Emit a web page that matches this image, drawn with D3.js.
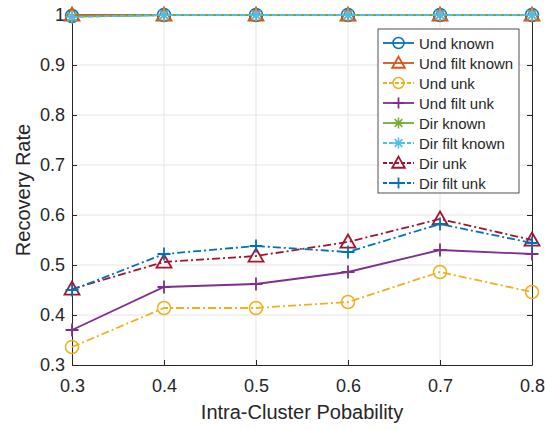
<!DOCTYPE html>
<html>
<head>
<meta charset="utf-8">
<script src="https://cdn.jsdelivr.net/npm/d3@7"></script>
<style>
  body { margin: 0; background: #fff; }
  text { font-family: "Liberation Sans", Arial, sans-serif; fill: #262626; }
</style>
</head>
<body>
<svg id="chart" width="545" height="430"></svg>
<script>
// data
var xValues = [0.3, 0.4, 0.5, 0.6, 0.7, 0.8];
var yTicks = [0.3, 0.4, 0.5, 0.6, 0.7, 0.8, 0.9, 1];

var undKnown = [0.998, 1, 1, 1, 1, 1];
var undFiltKnown = [1, 1, 1, 1, 1, 1];
var undUnk = [0.336, 0.414, 0.414, 0.426, 0.486, 0.446];
var undFiltUnk = [0.37, 0.456, 0.462, 0.486, 0.53, 0.522];
var dirKnown = [0.997, 1, 1, 1, 1, 1];
var dirFiltKnown = [0.996, 1, 1, 1, 1, 1];
var dirUnk = [0.452, 0.506, 0.518, 0.546, 0.592, 0.55];
var dirFiltUnk = [0.45, 0.522, 0.538, 0.526, 0.582, 0.544];

var seriesNames = ["Und known", "Und filt known", "Und unk", "Und filt unk",
                   "Dir known", "Dir filt known", "Dir unk", "Dir filt unk"];

// styles for each series
var styles = [
  { values: undKnown, color: "#0072BD", dash: null, marker: "circle" },
  { values: undFiltKnown, color: "#D95319", dash: null, marker: "triangle" },
  { values: undUnk, color: "#EDB120", dash: "8,3,2,3", marker: "circle" },
  { values: undFiltUnk, color: "#7E2F8E", dash: null, marker: "plus" },
  { values: dirKnown, color: "#77AC30", dash: null, marker: "star" },
  { values: dirFiltKnown, color: "#4DBEEE", dash: "5,3", marker: "star" },
  { values: dirUnk, color: "#A2142F", dash: "8,3,2,3", marker: "triangle" },
  { values: dirFiltUnk, color: "#0072BD", dash: "8,3,2,3", marker: "plus" }
];

var margin = { left: 72, right: 13, top: 15, bottom: 65 };
var width = 545, height = 430;

var svg = d3.select("#chart");

var x = d3.scaleLinear().domain([0.3, 0.8]).range([margin.left, width - margin.right]);
var y = d3.scaleLinear().domain([0.3, 1]).range([height - margin.bottom, margin.top]);

// grid
svg.append("g").selectAll("line.gx")
  .data(xValues.slice(1, -1)).enter().append("line")
  .attr("x1", d => x(d)).attr("x2", d => x(d))
  .attr("y1", y(0.3)).attr("y2", y(1))
  .attr("stroke", "#e3e3e3").attr("stroke-width", 1);
svg.append("g").selectAll("line.gy")
  .data(yTicks.slice(1, -1)).enter().append("line")
  .attr("x1", x(0.3)).attr("x2", x(0.8))
  .attr("y1", d => y(d)).attr("y2", d => y(d))
  .attr("stroke", "#e3e3e3").attr("stroke-width", 1);

// axes
var xAxis = d3.axisBottom(x).tickValues(xValues).tickSizeInner(-5).tickSizeOuter(0).tickPadding(14)
  .tickFormat(d3.format(".1f"));
var yAxis = d3.axisLeft(y).tickValues(yTicks).tickSizeInner(-5).tickSizeOuter(0).tickPadding(7)
  .tickFormat(d => d === 1 ? "1" : d3.format(".1f")(d));

var gx = svg.append("g").attr("transform", "translate(0," + y(0.3) + ")").call(xAxis);
var gy = svg.append("g").attr("transform", "translate(" + x(0.3) + ",0)").call(yAxis);
var gxTop = svg.append("g").attr("transform", "translate(0," + y(1) + ")")
  .call(d3.axisTop(x).tickValues(xValues).tickSizeInner(-5).tickSizeOuter(0).tickFormat(""));
var gyRight = svg.append("g").attr("transform", "translate(" + x(0.8) + ",0)")
  .call(d3.axisRight(y).tickValues(yTicks).tickSizeInner(-5).tickSizeOuter(0).tickFormat(""));

[gx, gy, gxTop, gyRight].forEach(function(g) {
  g.select(".domain").attr("stroke", "#262626").attr("stroke-width", 1);
  g.selectAll(".tick line").attr("stroke", "#262626");
  g.selectAll("text").style("font-size", "18px").attr("fill", "#262626")
    .style("font-family", "'Liberation Sans', Arial, sans-serif");
});

// axis labels
svg.append("text")
  .attr("x", x(0.55)).attr("y", 419)
  .attr("text-anchor", "middle").style("font-size", "20px")
  .text("Intra-Cluster Pobability");
svg.append("text")
  .attr("transform", "translate(30," + y(0.65) + ") rotate(-90)")
  .attr("text-anchor", "middle").style("font-size", "20px")
  .text("Recovery Rate");

// marker drawing
function drawMarker(g, type, color, size) {
  var s = size;
  if (type === "circle") {
    g.append("circle").attr("r", s).attr("fill", "none").attr("stroke", color).attr("stroke-width", 1.5);
  } else if (type === "triangle") {
    var h = s * 1.15;
    g.append("path").attr("d", "M0," + (-h) + "L" + h + "," + (h * 0.75) + "L" + (-h) + "," + (h * 0.75) + "Z")
      .attr("fill", "none").attr("stroke", color).attr("stroke-width", 1.8);
  } else if (type === "plus") {
    g.append("path").attr("d", "M" + (-s) + ",0H" + s + "M0," + (-s) + "V" + s)
      .attr("stroke", color).attr("stroke-width", 1.8);
  } else if (type === "star") {
    var d = s * 0.7;
    g.append("path").attr("d", "M" + (-s) + ",0H" + s + "M0," + (-s) + "V" + s +
      "M" + (-d) + "," + (-d) + "L" + d + "," + d + "M" + (-d) + "," + d + "L" + d + "," + (-d))
      .attr("stroke", color).attr("stroke-width", 1.5);
  }
}

var line = d3.line().x((d, i) => x(xValues[i])).y(d => y(d));

styles.forEach(function(st) {
  var g = svg.append("g");
  g.append("path").datum(st.values)
    .attr("d", line)
    .attr("fill", "none").attr("stroke", st.color).attr("stroke-width", 1.8)
    .attr("stroke-dasharray", st.dash);
  st.values.forEach(function(v, i) {
    var mg = g.append("g").attr("transform", "translate(" + x(xValues[i]) + "," + y(v) + ")");
    drawMarker(mg, st.marker, st.color, 6.5);
  });
});

// legend
var lgX = 378, lgY = 29, lgW = 141, lgH = 164;
var legend = svg.append("g");
legend.append("rect").attr("x", lgX).attr("y", lgY).attr("width", lgW).attr("height", lgH)
  .attr("fill", "#fff").attr("stroke", "#262626").attr("stroke-width", 0.8);
seriesNames.forEach(function(name, i) {
  var st = styles[i];
  var yy = lgY + 14 + i * 20;
  legend.append("line").attr("x1", lgX + 5).attr("x2", lgX + 36).attr("y1", yy).attr("y2", yy)
    .attr("stroke", st.color).attr("stroke-width", 1.8)
    .attr("stroke-dasharray", st.dash ? "4,2" : null);
  var mg = legend.append("g").attr("transform", "translate(" + (lgX + 20.5) + "," + yy + ")");
  drawMarker(mg, st.marker, st.color, 5.5);
  legend.append("text").attr("x", lgX + 41).attr("y", yy + 5.5)
    .style("font-size", "15px").text(name);
});
</script>
</body>
</html>
